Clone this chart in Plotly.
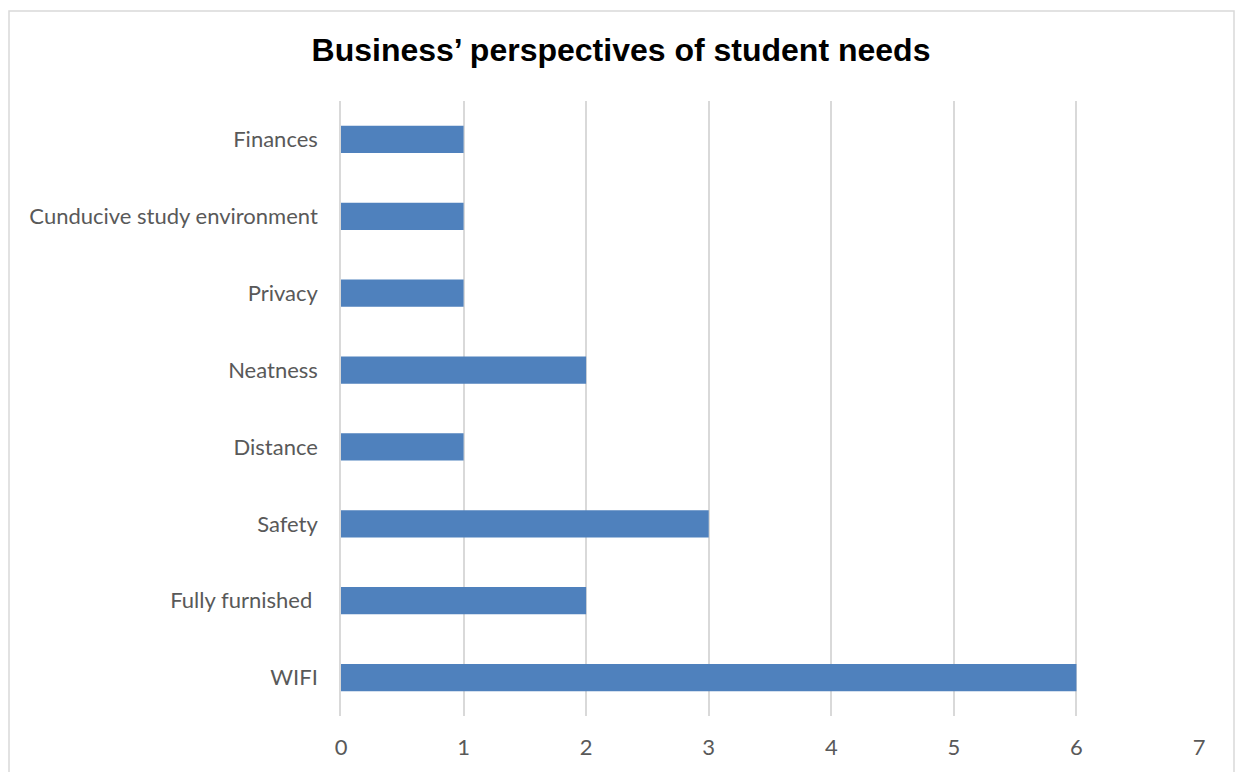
import plotly.graph_objects as go

# Student needs as seen by businesses (bottom to top)
categories = ["WIFI", "Fully furnished\u00a0", "Safety", "Distance", "Neatness",
              "Privacy", "Cunducive study environment", "Finances"]
counts = [6, 2, 3, 1, 2, 1, 1, 1]
x_ticks = [0, 1, 2, 3, 4, 5, 6, 7]

W, H = 1235, 772
L, R, T, B = 341, 36, 101, 56
pw, ph = W - L - R, H - T - B

fig = go.Figure(go.Bar(
    x=counts, y=categories, orientation="h",
    marker=dict(color="#4F81BD", line=dict(width=0)),
    hoverinfo="x+y",
))

fig.update_layout(
    width=W, height=H,
    margin=dict(l=L, r=R, t=T, b=B),
    paper_bgcolor="white", plot_bgcolor="white",
    bargap=0.645,
    showlegend=False,
    title=dict(text="<b>Business\u2019 perspectives of student needs</b>",
               x=621 / W, xanchor="center", y=1 - 50 / H, yanchor="middle",
               font=dict(family="Liberation Sans, Arial", size=32, color="black")),
    xaxis=dict(range=[0, 7], tickvals=x_ticks, showgrid=True,
               gridcolor="#D9D9D9", gridwidth=1.5, zeroline=False,
               showline=False, ticks="", ticklabelstandoff=16,
               tickfont=dict(family="Lato, Open Sans", size=22, color="#595959")),
    yaxis=dict(showgrid=False, zeroline=False, showline=True,
               linecolor="#D9D9D9", linewidth=1.5, ticks="",
               ticklabelstandoff=17,
               tickfont=dict(family="Lato, Open Sans", size=22, color="#595959")),
    shapes=[dict(type="rect", xref="paper", yref="paper",
                 x0=(9 - L) / pw, x1=(1234 - L) / pw,
                 y0=-0.2, y1=1 + (T - 11) / ph,
                 line=dict(color="#D9D9D9", width=1.5), layer="below")],
)

fig.write_html("out.html")
